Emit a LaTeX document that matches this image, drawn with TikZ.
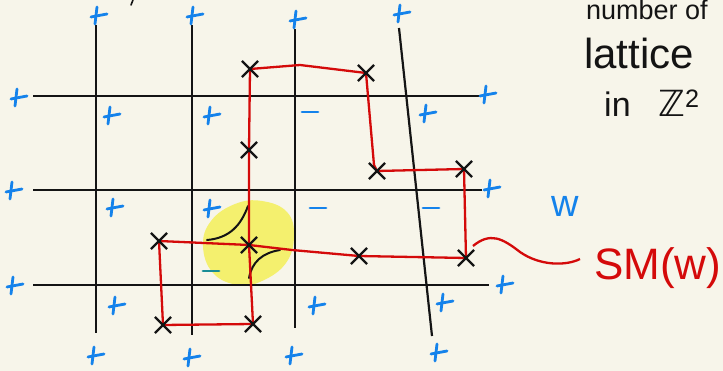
\documentclass[tikz,border=0pt]{standalone}
\usepackage{fontspec}
\setmainfont{Liberation Sans}
\newfontfamily\djv{DejaVu Sans}
\usetikzlibrary{shapes.misc}
\definecolor{bg}{RGB}{247,245,234}
\definecolor{pen}{RGB}{20,20,20}
\definecolor{sblue}{RGB}{20,130,235}
\definecolor{steal}{RGB}{25,140,150}
\definecolor{rd}{RGB}{212,10,10}
\definecolor{hl}{RGB}{244,240,110}
\begin{document}
\begin{tikzpicture}[x=1pt,y=-1pt,
  gridline/.style={draw=pen,line width=2.2pt},
  redpath/.style={draw=rd,line width=2.3pt,line join=round},
  xm/.style={cross out,draw=pen,line width=2.2pt,minimum size=14pt,inner sep=0pt},
  signstroke/.style={draw=sblue,line width=2.8pt,line cap=round},
  plussign/.pic={\draw[signstroke] (-2,9) -- (0,-8); \draw[signstroke] (-6,2) -- (10,-1);},
  minussign/.pic={\draw[signstroke] (-8,0) -- (8,0);},
  hand/.style={inner sep=0pt}
]
\fill[bg] (0,0) rectangle (723,371);
\useasboundingbox (0,0) rectangle (723,371);

% highlight
\fill[hl] plot[smooth cycle, tension=0.7] coordinates {(203,246) (211,221) (235,204) (262,201) (287,212) (294,236) (286,263) (262,281) (238,285) (213,273)};

% grid
\coordinate (h1a) at (33,96);  \coordinate (h1b) at (480,96);
\coordinate (h2a) at (33,190); \coordinate (h2b) at (482,190);
\coordinate (h3a) at (33,285); \coordinate (h3b) at (489,285);
\coordinate (v1a) at (96,25);  \coordinate (v1b) at (96,333);
\coordinate (v2a) at (192,25); \coordinate (v2b) at (192,335);
\coordinate (v3a) at (295,29); \coordinate (v3b) at (295,328);
\coordinate (sla) at (399,28); \coordinate (slb) at (432,336);
\draw[gridline] (h1a) -- (h1b);
\draw[gridline] (h2a) -- (h2b);
\draw[gridline] (h3a) -- (h3b);
\draw[gridline] (v1a) -- (v1b);
\draw[gridline] (v2a) -- (v2b);
\draw[gridline] (v3a) -- (v3b);
\draw[gridline] (sla) -- (slb);
\draw[pen,line width=1.6pt,line cap=round] (133,0) -- (131,5);

% black arcs in highlight
\draw[pen,line width=2pt,line cap=round] (207,240) .. controls (230,238) and (241,225) .. (248,206);
\draw[pen,line width=2pt,line cap=round] (280,250) .. controls (262,253) and (252,262) .. (249,278);

% blue signs
\foreach \p in {(97,15),(193,15),(296,19),(400,13),(17,97),(12,190),(13,285),(486,94),(490,188),(503,284),
  (110,115),(210,115),(426,113),(113,207),(210,208),(115,305),(315,305),(443,302),
  (94,355),(190,357),(292,355),(437,352)}
  \pic at \p {plussign};
\foreach \p in {(310,112),(318,208),(431,208)}
  \pic at \p {minussign};
\draw[draw=steal,line width=2.8pt,line cap=round] (203,271) -- (219,271);

% red path
\coordinate (cA) at (250,69);
\coordinate (cB) at (366,73);
\coordinate (cC) at (377,171);
\coordinate (cD) at (464,169);
\coordinate (cE) at (466,258);
\coordinate (cF) at (359,256);
\coordinate (cG) at (249,245);
\coordinate (cH) at (249,150);
\coordinate (cI) at (159,241);
\coordinate (cJ) at (163,325);
\coordinate (cK) at (253,324);
\coordinate (ab) at (300,65);
\coordinate (bc) at (374,165);
\coordinate (gf) at (292,250);
\draw[redpath] (cA) -- (ab) -- (cB) -- (bc) -- (cC) -- (cD) -- (cE) -- (cF) -- (gf) -- (cG) -- (cH) -- (cA);
\draw[redpath] (cG) -- (cI) -- (cJ) -- (cK) -- cycle;
\node[xm] (A) at (cA) {};
\node[xm] (B) at (cB) {};
\node[xm] (C) at (cC) {};
\node[xm] (D) at (cD) {};
\node[xm] (E) at (cE) {};
\node[xm] (F) at (cF) {};
\node[xm] (G) at (cG) {};
\node[xm] (H) at (cH) {};
\node[xm] (I) at (cI) {};
\node[xm] (J) at (cJ) {};
\node[xm] (K) at (cK) {};

% labels
\node[hand,anchor=base west,text=pen,font=\fontsize{27}{27}\selectfont] (t1) at (586,20) {number of};
\node[hand,anchor=base west,text=pen,font=\fontsize{42}{42}\selectfont] (t2) at (584,69) {lattice};
\node[hand,anchor=base west,text=pen,font=\fontsize{34}{34}\selectfont] (t3) at (604,117) {in};
\node[hand,anchor=base west,text=pen,font=\fontsize{36}{36}\selectfont] (t4) at (658,117) {{\djv ℤ}\textsuperscript{2}};
\node[hand,anchor=base,text=sblue,font=\fontsize{38}{38}\selectfont] (w) at (565,217) {w};
\node[hand,anchor=base west,text=rd,font=\fontsize{44}{44}\selectfont] (sm) at (594,280) {SM(w)};
\coordinate (sq) at (580,259);
\draw[redpath] (E) ++(7,-12) .. controls (490,232) and (502,238) .. (520,252) .. controls (540,266) and (566,266) .. (sq);
\end{tikzpicture}
\end{document}
